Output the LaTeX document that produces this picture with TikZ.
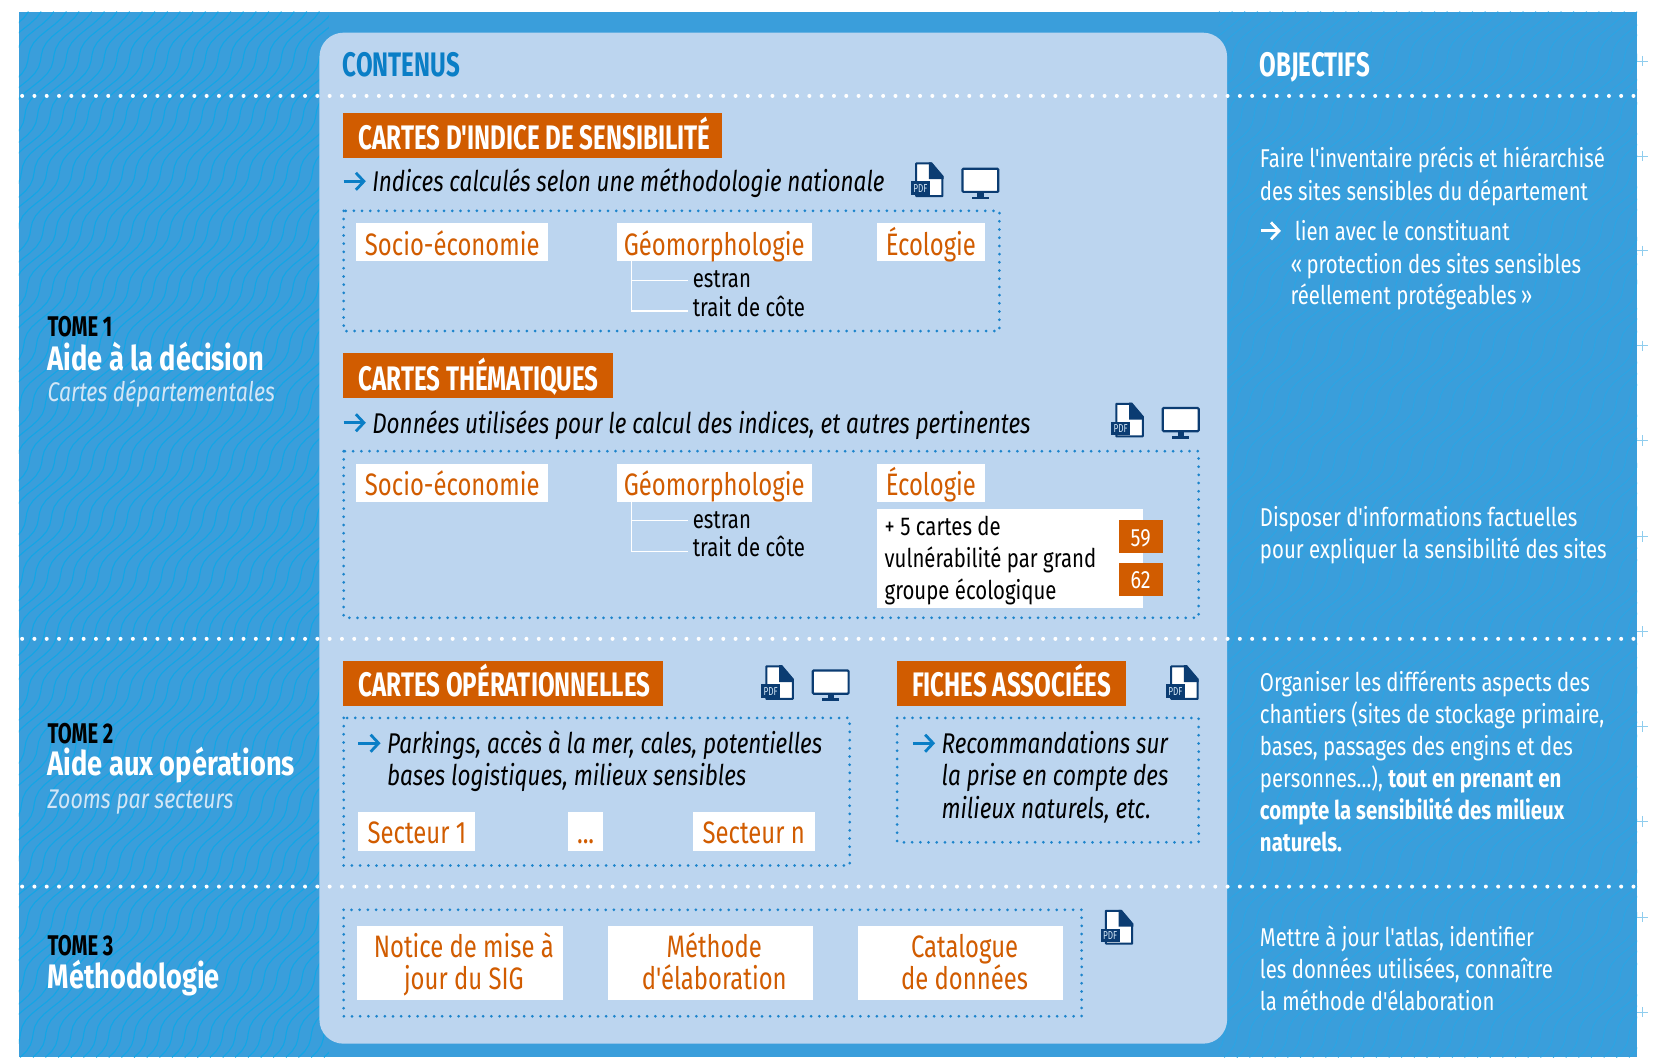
\documentclass[tikz,border=0pt]{standalone}
\usepackage{fontspec}
\usetikzlibrary{arrows.meta}
\setmainfont{Fira Sans}
\newfontfamily\hdfont{Fira Sans}[FakeStretch=.71]
\newfontfamily\ttlfont{Fira Sans}[FakeStretch=.80]
\newfontfamily\bodyfont{Fira Sans}[FakeStretch=.79]
\newfontfamily\labfont{Fira Sans}[FakeStretch=.77]
\definecolor{bgblue}{HTML}{3A9EDB}
\definecolor{wavea}{HTML}{12A6E6}
\definecolor{waveb}{HTML}{2DA4E3}
\definecolor{panelblue}{HTML}{BCD5EF}
\definecolor{orangeb}{HTML}{D15C00}
\definecolor{dotblue}{HTML}{1C84CB}
\definecolor{headblue}{HTML}{0A7EC6}
\definecolor{navy}{HTML}{0B3C72}
\definecolor{paleblue}{HTML}{D3E6F6}
\definecolor{crossblue}{HTML}{8FCDEE}
\tikzset{
  txt/.style={anchor=base west,inner sep=0pt,font=\bodyfont\fontsize{25.8}{25.8}\selectfont},
  ittxt/.style={txt,font=\bodyfont\itshape\fontsize{28.5}{28.5}\selectfont},
  small/.style={txt,font=\bodyfont\fontsize{25.8}{25.8}\selectfont},
  headtxt/.style={anchor=base west,inner sep=0pt,font=\hdfont\bfseries\fontsize{34}{34}\selectfont},
  tome/.style={headtxt,font=\hdfont\bfseries\fontsize{28.5}{28.5}\selectfont},
  ttl/.style={anchor=base west,inner sep=0pt,text=white,font=\ttlfont\bfseries\fontsize{34}{34}\selectfont},
  sub/.style={anchor=base west,inner sep=0pt,text=paleblue,font=\bodyfont\itshape\fontsize{27}{27}\selectfont},
  righttxt/.style={txt,text=white},
  rightbold/.style={txt,text=white,font=\bodyfont\bfseries\fontsize{25.8}{25.8}\selectfont},
  bar/.style={fill=orangeb,draw=none},
  lab/.style={fill=white,draw=none},
  labtxt/.style={anchor=base,inner sep=0pt,text=orangeb,font=\labfont\fontsize{31}{31}\selectfont},
  numtxt/.style={anchor=base,inner sep=0pt,text=white,font=\bodyfont\fontsize{25}{25}\selectfont},
  dotbox/.style={draw=dotblue,line width=3pt,line cap=round,dash pattern=on 0pt off 8.2pt},
  whitedots/.style={draw=white,line width=4pt,line cap=round,dash pattern=on 0pt off 12.3pt},
  arr/.style={draw=headblue,line width=2.8pt,-{Straight Barb[length=8pt,width=17pt,line width=2.8pt]}},
  warr/.style={arr,draw=white},
  tree/.style={draw=white,line width=1.3pt},
  cross/.style={draw=crossblue,line width=.9pt},
  pdficon/.pic={
    \draw[navy,fill=white,line width=2pt,line join=round] (5,1)--(19,1)--(30,14)--(30,32)--(5,32)--cycle;
    \fill[navy] (17,0)--(20,0)--(31,13)--(31,16)--(17,16)--cycle;
    \fill[navy] (0,18) rectangle (18,31);
    \node[inner sep=0pt,text=paleblue] (-lab) at (9,24.8) {\hdfont\fontsize{11.5}{11.5}\selectfont PDF};
  },
  monicon/.pic={
    \draw[navy,fill=white,line width=2.2pt,rounded corners=1pt] (1,1) rectangle (35,23);
    \fill[navy] (15,23) rectangle (21,28);
    \fill[navy] (10,27.5) rectangle (26,30);
  }
}
\begin{document}
\begin{tikzpicture}[x=1.0542pt,y=-1.0542pt]
\useasboundingbox (0,0) rectangle (1568,1003);
\fill[white] (0,0) rectangle (1568,1003);
\fill[bgblue] (18,11) rectangle (1553,1003);
\begin{scope}
\clip (18,11) rectangle (312,1003);
\foreach \s in {-740,-728,...,320}
  \draw[wavea,line width=1.1pt] plot[domain=11:1003,samples=170] ({\s+0.72*(1003-\x)+5*sin(\x*6.6)},\x);
\end{scope}
\begin{scope}
\clip (1156,11) rectangle (1553,1003);
\foreach \s in {390,402,...,1560}
  \draw[waveb,line width=1.1pt] plot[domain=11:1003,samples=170] ({\s+0.72*(1003-\x)+5*sin(\x*6.6)},\x);
\end{scope}
\foreach \yy in {58,148,238,328,418,509,599,689,779,870,960}
  \draw[cross] (1553,\yy) -- (1563,\yy) (1558,\yy-5) -- (1558,\yy+5);
\fill[panelblue,rounded corners=24pt] (303,31) rectangle (1164,990);
% dotted separators
\coordinate (s1a) at (21,91); \coordinate (s1b) at (1553,91);
\coordinate (s2a) at (21,606); \coordinate (s2b) at (1553,606);
\coordinate (s3a) at (21,841); \coordinate (s3b) at (1553,841);
\draw[whitedots] (s1a) -- (s1b);
\draw[whitedots] (s2a) -- (s2b);
\draw[whitedots] (s3a) -- (s3b);
% column heads
\node[headtxt,text=headblue] (contenus) at (325,73) {CONTENUS};
\node[headtxt,text=white] (objectifs) at (1195,73) {OBJECTIFS};
% left
\node[tome] (t1) at (45,319) {TOME 1};
\node[ttl] (t1b) at (45,351) {Aide à la décision};
\node[sub] (t1c) at (45,381) {Cartes départementales};
\node[tome] (t2) at (45,705) {TOME 2};
\node[ttl] (t2b) at (45,736) {Aide aux opérations};
\node[sub] (t2c) at (45,767) {Zooms par secteurs};
\node[tome] (t3) at (45,906) {TOME 3};
\node[ttl] (t3b) at (45,938) {Méthodologie};
% block 1
\fill[bar] (325,107) rectangle (685,150);
\node[headtxt,text=white] (b1) at (340,142) {CARTES D'INDICE DE SENSIBILITÉ};
\coordinate (a1s) at (326,172); \coordinate (a1e) at (347,172);
\draw[arr] (a1s) -- (a1e);
\node[ittxt] (i1) at (353,182) {Indices calculés selon une méthodologie nationale};
\pic at (864,154) {pdficon};
\pic at (912,159) {monicon};
\draw[dotbox] (326,200) rectangle (948,314);
\fill[lab] (338,212) rectangle (520,248);
\fill[lab] (585,212) rectangle (770,248);
\fill[lab] (832,212) rectangle (934,248);
\node[labtxt] (l1) at (429,242) {Socio-économie};
\node[labtxt] (l2) at (677.5,242) {Géomorphologie};
\node[labtxt] (l3) at (883,242) {Écologie};
\coordinate (tr1) at (599,248); \coordinate (tr1c) at (599,295);
\node[small] (e1) at (657,273) {estran};
\node[small] (c1) at (657,300) {trait de côte};
\draw[tree] (tr1) -- (tr1c) -- ([xshift=-5pt]c1.west |- tr1c);
\draw[tree] (599,266) -- ([xshift=-5pt]e1.west |- 599,266);
% block 2
\fill[bar] (325,335) rectangle (581,378);
\node[headtxt,text=white] (b2) at (340,370) {CARTES THÉMATIQUES};
\coordinate (a2s) at (326,401); \coordinate (a2e) at (347,401);
\draw[arr] (a2s) -- (a2e);
\node[ittxt] (i2) at (353,411) {Données utilisées pour le calcul des indices, et autres pertinentes};
\pic at (1054,382) {pdficon};
\pic at (1102,386) {monicon};
\draw[dotbox] (326,428) rectangle (1137,586);
\fill[lab] (338,440) rectangle (520,476);
\fill[lab] (585,440) rectangle (770,476);
\fill[lab] (832,440) rectangle (934,476);
\node[labtxt] (l4) at (429,470) {Socio-économie};
\node[labtxt] (l5) at (677.5,470) {Géomorphologie};
\node[labtxt] (l6) at (883,470) {Écologie};
\coordinate (tr2) at (599,476); \coordinate (tr2c) at (599,523);
\node[small] (e2) at (657,501) {estran};
\node[small] (c2) at (657,528) {trait de côte};
\draw[tree] (tr2) -- (tr2c) -- ([xshift=-5pt]c2.west |- tr2c);
\draw[tree] (599,494) -- ([xshift=-5pt]e2.west |- 599,494);
\fill[lab] (832,483) rectangle (1084,577);
\node[small] (v1) at (839,508) {+ 5 cartes de};
\node[small] (v2) at (839,538) {vulnérabilité par grand};
\node[small] (v3) at (839,569) {groupe écologique};
\fill[bar] (1061,493) rectangle (1103,525);
\fill[bar] (1061,534) rectangle (1103,565);
\node[numtxt] (n59) at (1082,518) {59};
\node[numtxt] (n62) at (1082,558) {62};
% block 3
\fill[bar] (325,627) rectangle (629,670);
\node[headtxt,text=white] (b3) at (340,661) {CARTES OPÉRATIONNELLES};
\pic at (722,631) {pdficon};
\pic at (770,635) {monicon};
\draw[dotbox] (326,681) rectangle (806,821);
\coordinate (a3s) at (340,705); \coordinate (a3e) at (361,705);
\draw[arr] (a3s) -- (a3e);
\node[ittxt] (i3) at (367,715) {Parkings, accès à la mer, cales, potentielles};
\node[ittxt] (i3b) at (367,745) {bases logistiques, milieux sensibles};
\fill[lab] (340,770) rectangle (451,807);
\fill[lab] (539,770) rectangle (572,807);
\fill[lab] (657,770) rectangle (773,807);
\node[labtxt] (s1) at (395.5,800) {Secteur 1};
\node[labtxt] (s2) at (555.5,800) {...};
\node[labtxt] (s3) at (715,800) {Secteur n};
% block 4
\fill[bar] (851,627) rectangle (1068,670);
\node[headtxt,text=white] (b4) at (865,661) {FICHES ASSOCIÉES};
\pic at (1106,631) {pdficon};
\draw[dotbox] (851,681) rectangle (1137,799);
\coordinate (a4s) at (866,705); \coordinate (a4e) at (887,705);
\draw[arr] (a4s) -- (a4e);
\node[ittxt] (i4) at (893,715) {Recommandations sur};
\node[ittxt] (i4b) at (893,745) {la prise en compte des};
\node[ittxt] (i4c) at (893,776) {milieux naturels, etc.};
% block 5
\draw[dotbox] (326,863) rectangle (1026,964);
\pic at (1044,863) {pdficon};
\fill[lab] (339,878) rectangle (534,949);
\fill[lab] (577,878) rectangle (771,949);
\fill[lab] (814,878) rectangle (1008,949);
\node[labtxt] (m1) at (440,908) {Notice de mise à};
\node[labtxt] (m1b) at (440,939) {jour du SIG};
\node[labtxt] (m2) at (677.5,908) {Méthode};
\node[labtxt] (m2b) at (677.5,939) {d'élaboration};
\node[labtxt] (m3) at (915,908) {Catalogue};
\node[labtxt] (m3b) at (915,939) {de données};
% right column
\node[righttxt] (r1) at (1195,159) {Faire l'inventaire précis et hiérarchisé};
\node[righttxt] (r2) at (1195,190) {des sites sensibles du département};
\coordinate (a5s) at (1196,219); \coordinate (a5e) at (1215,219);
\draw[warr] (a5s) -- (a5e);
\node[righttxt] (r3) at (1228,228) {lien avec le constituant};
\node[righttxt] (r4) at (1224,259) {«\,protection des sites sensibles};
\node[righttxt] (r5) at (1224,289) {réellement protégeables\,»};
\node[righttxt] (r6) at (1195,499) {Disposer d'informations factuelles};
\node[righttxt] (r7) at (1195,530) {pour expliquer la sensibilité des sites};
\node[righttxt] (r8) at (1195,656) {Organiser les différents aspects des};
\node[righttxt] (r9) at (1195,686) {chantiers (sites de stockage primaire,};
\node[righttxt] (r10) at (1195,717) {bases, passages des engins et des};
\node[righttxt] (r11) at (1195,747) {personnes...), \bfseries tout en prenant en};
\node[rightbold] (r12) at (1195,777) {compte la sensibilité des milieux};
\node[rightbold] (r13) at (1195,808) {naturels.};
\node[righttxt] (r14) at (1195,898) {Mettre à jour l'atlas, identifier};
\node[righttxt] (r15) at (1195,928) {les données utilisées, connaître};
\node[righttxt] (r16) at (1195,959) {la méthode d'élaboration};
\end{tikzpicture}
\end{document}
